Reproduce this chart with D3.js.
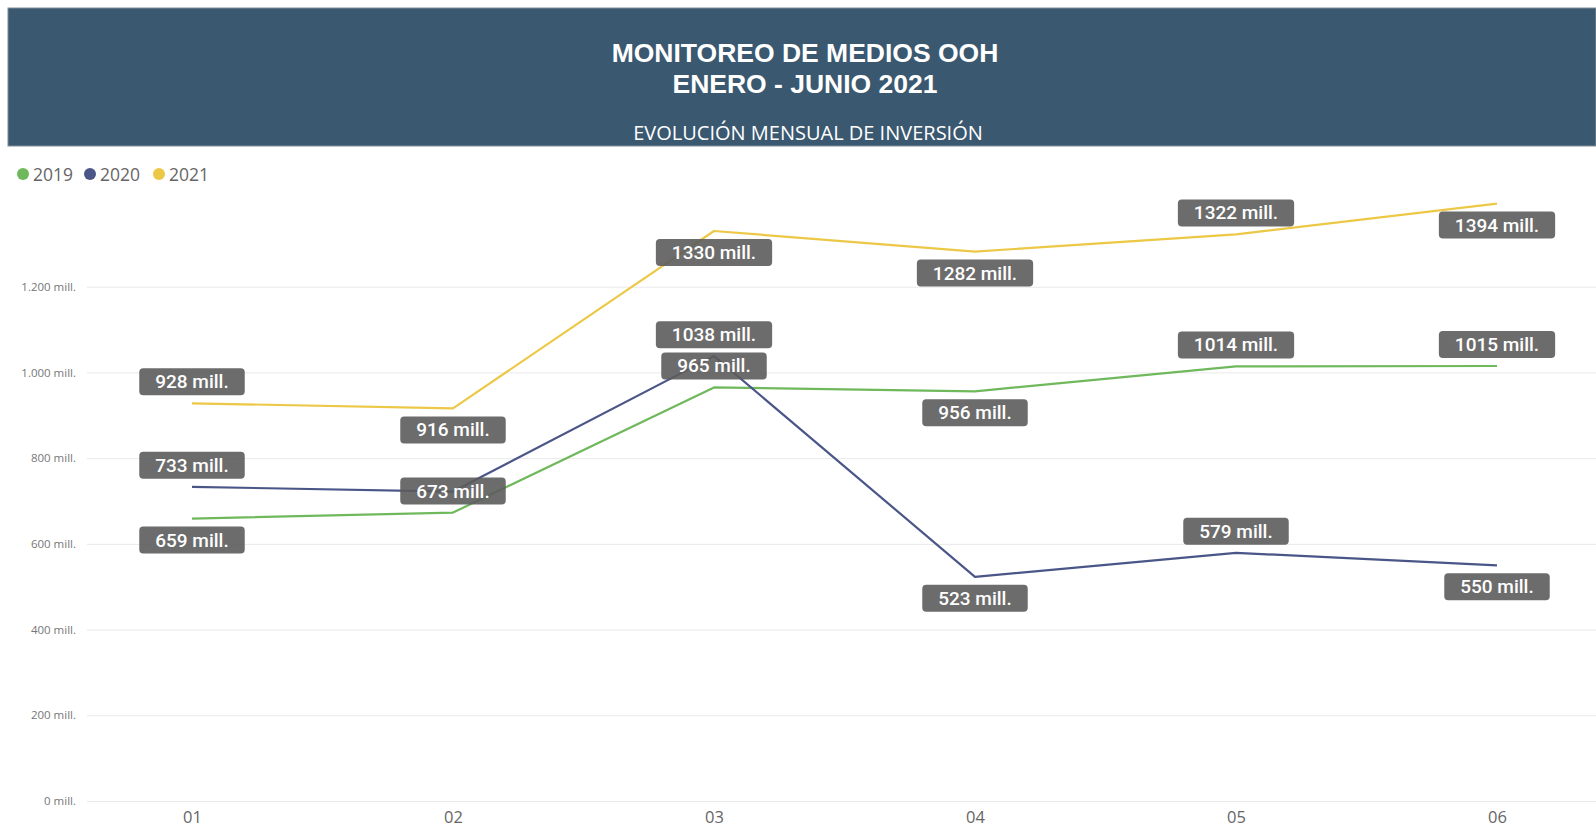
<!DOCTYPE html>
<html lang="es">
<head>
<meta charset="utf-8">
<title>Monitoreo de medios OOH</title>
<script src="https://cdn.jsdelivr.net/npm/d3@7"></script>
<style>
body { margin: 0; background: #ffffff; }
svg { display: block; }
</style>
</head>
<body>
<script>
var width = 1596, height = 827;

// data (millions)
var months = ["01", "02", "03", "04", "05", "06"];
var series = ["2019", "2020", "2021"];
var v2019 = [659, 673, 965, 956, 1014, 1015];
var v2020 = [733, 722, 1038, 523, 579, 550];
var v2021 = [928, 916, 1330, 1282, 1322, 1394];
var yTicks = [0, 200, 400, 600, 800, 1000, 1200];

// where the data label sits (a = above, b = below, "" = hidden)
var lab2019 = ["b", "a", "a", "b", "a", "a"];
var lab2020 = ["a", "", "a", "b", "a", "b"];
var lab2021 = ["a", "b", "b", "b", "a", "b"];

var colors = ["#6fb85c", "#4a5688", "#ecc846"];

var svg = d3.select("body").append("svg")
    .attr("width", width).attr("height", height);

// header band
svg.append("rect").attr("x", 8).attr("y", 8).attr("width", width - 8).attr("height", 138)
    .attr("fill", "#3a5870").attr("stroke", "#7f8d9a").attr("stroke-width", 1);
svg.append("text").attr("x", 805).attr("y", 62).attr("text-anchor", "middle")
    .attr("font-family", "Liberation Sans, Arial, sans-serif").attr("font-weight", "bold")
    .attr("font-size", 26.5).attr("fill", "#ffffff").text("MONITOREO DE MEDIOS OOH");
svg.append("text").attr("x", 805).attr("y", 93).attr("text-anchor", "middle")
    .attr("font-family", "Liberation Sans, Arial, sans-serif").attr("font-weight", "bold")
    .attr("font-size", 26.5).attr("fill", "#ffffff").text("ENERO - JUNIO 2021");
svg.append("text").attr("x", 808).attr("y", 140).attr("text-anchor", "middle")
    .attr("font-family", "Open Sans, sans-serif")
    .attr("font-size", 20).attr("fill", "#ffffff").text("EVOLUCIÓN MENSUAL DE INVERSIÓN");

// legend
var legX = [23, 90, 159];
var leg = svg.append("g");
series.forEach(function(s, i) {
    leg.append("circle").attr("cx", legX[i]).attr("cy", 174).attr("r", 6).attr("fill", colors[i]);
    leg.append("text").attr("x", legX[i] + 10).attr("y", 180.5)
        .attr("font-family", "Open Sans, sans-serif").attr("font-size", 17.5)
        .attr("fill", "#666666").text(s);
});

// scales
var x = d3.scalePoint().domain(months).range([192, 1497]);
var y = d3.scaleLinear().domain([0, 1400]).range([801, 201]);

var loc = d3.formatLocale({decimal: ",", thousands: ".", grouping: [3], currency: ["", ""]});
var fmt = loc.format(",d");

// y axis with gridlines
var yAxis = d3.axisLeft(y).tickValues(yTicks)
    .tickSize(-(width - 87)).tickPadding(11)
    .tickFormat(function(d) { return fmt(d) + " mill."; });
var gy = svg.append("g").attr("transform", "translate(87,0)").call(yAxis);
gy.select(".domain").remove();
gy.selectAll(".tick line").attr("stroke", "#e9e9e9").attr("stroke-width", 1);
gy.selectAll(".tick text").attr("fill", "#777777")
    .attr("font-family", "Open Sans, sans-serif").attr("font-size", 11.5);

// x axis
var xAxis = d3.axisBottom(x).tickSize(0).tickPadding(10);
var gx = svg.append("g").attr("transform", "translate(0,801)").call(xAxis);
gx.select(".domain").remove();
gx.selectAll(".tick text").attr("fill", "#666666")
    .attr("font-family", "Open Sans, sans-serif").attr("font-size", 16.5);

// lines
var allVals = [v2019, v2020, v2021];
var allLabs = [lab2019, lab2020, lab2021];
var line = d3.line()
    .x(function(d, i) { return x(months[i]); })
    .y(function(d) { return y(d); });

allVals.forEach(function(vals, k) {
    svg.append("path").datum(vals)
        .attr("fill", "none").attr("stroke", colors[k]).attr("stroke-width", 2.2)
        .attr("stroke-linejoin", "round")
        .attr("d", line);
});

// data labels
var labels = svg.append("g");
allVals.forEach(function(vals, k) {
    vals.forEach(function(v, i) {
        var p = allLabs[k][i];
        if (!p) return;
        var cx = x(months[i]), cy = y(v);
        var bh = 27;
        var top = p == "a" ? cy - 8 - bh : cy + 8;
        var g = labels.append("g");
        var t = g.append("text").attr("x", cx).attr("y", top + bh / 2 + 6.5)
            .attr("text-anchor", "middle")
            .attr("font-family", "Roboto, sans-serif").attr("font-weight", 500)
            .attr("font-size", 19).attr("fill", "#ffffff")
            .text(v + " mill.");
        var bw = t.node().getComputedTextLength() + 32;
        g.insert("rect", "text").attr("x", cx - bw / 2).attr("y", top)
            .attr("width", bw).attr("height", bh).attr("rx", 4)
            .attr("fill", "#5c5c5c").attr("fill-opacity", 0.9);
    });
});
</script>
</body>
</html>
